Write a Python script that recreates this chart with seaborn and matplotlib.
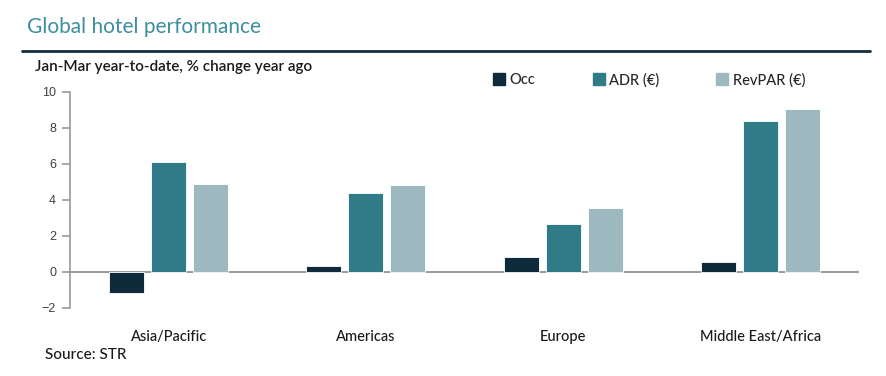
import pandas as pd
import seaborn as sns
import matplotlib.pyplot as plt
from matplotlib.lines import Line2D

# Data
regions = ['Asia/Pacific', 'Americas', 'Europe', 'Middle East/Africa']
occ = [-1.15, 0.33, 0.85, 0.56]
adr = [6.1, 4.4, 2.65, 8.4]
revpar = [4.88, 4.82, 3.55, 9.05]
series = ['Occ', 'ADR (€)', 'RevPAR (€)']
colors = ['#0f2b3b', '#2f7b88', '#9db8bf']

df = pd.DataFrame({'region': regions, 'Occ': occ, 'ADR (€)': adr, 'RevPAR (€)': revpar})
long_df = df.melt(id_vars='region', var_name='metric', value_name='change')

sns.set_style('white')
plt.rcParams['font.family'] = ['Lato', 'DejaVu Sans']

fig = plt.figure(figsize=(8.86, 3.76), dpi=100)
ax = fig.add_axes([70 / 886, 68 / 376, 789 / 886, 216 / 376])

sns.barplot(data=long_df, x='region', y='change', hue='metric', hue_order=series,
            palette=colors, saturation=1, width=0.64, gap=0.17, ax=ax, legend=False,
            edgecolor='white', linewidth=0.6)

ax.axhline(0, color='#9a9a9a', lw=1.4, zorder=0)
ax.set_ylim(-2, 10)
ax.set_xlim(-0.5, 3.5)
ax.set_yticks(range(-2, 11, 2))
ax.set_xlabel('')
ax.set_ylabel('')
for s in ['top', 'right', 'bottom']:
    ax.spines[s].set_visible(False)
ax.spines['left'].set_color('#9a9a9a')
ax.spines['left'].set_linewidth(1.2)
ax.tick_params(axis='y', length=6, width=1.2, color='#9a9a9a', labelsize=9,
               labelcolor='#404040', pad=4, left=True)
ax.tick_params(axis='x', length=0, labelsize=10.5, labelcolor='#1a1a1a', pad=16)
for t in ax.get_yticklabels():
    t.set_family(['Liberation Sans', 'DejaVu Sans'])
for t in ax.get_xticklabels():
    t.set_fontweight('medium')

# legend
handles = [Line2D([], [], marker='s', linestyle='', markersize=9, color=c) for c in colors]
fig.legend(handles, series, loc='center left', bbox_to_anchor=(494 / 886, 1 - 80 / 376),
           ncol=3, frameon=False, fontsize=10.5, handlelength=0.7, handletextpad=0.35,
           columnspacing=4.0, borderaxespad=0, borderpad=0,
           prop={'weight': 'medium', 'size': 10.5})

# header
fig.text(27 / 886, 1 - 27 / 376, 'Global hotel performance', fontsize=15, color='#3d8e9e',
         va='center', ha='left')
fig.add_artist(Line2D([22 / 886, 870 / 886], [1 - 51 / 376, 1 - 51 / 376],
                      color='#142b3e', lw=2))
fig.text(35 / 886, 1 - 67 / 376, 'Jan-Mar year-to-date, % change year ago', fontsize=11,
         color='#1a1a1a', va='center', ha='left', fontweight='semibold')
fig.text(45 / 886, 1 - 355 / 376, 'Source: STR', fontsize=11, color='#1a1a1a',
         va='center', ha='left', fontweight='medium')

fig.savefig('out.png', dpi=100)
